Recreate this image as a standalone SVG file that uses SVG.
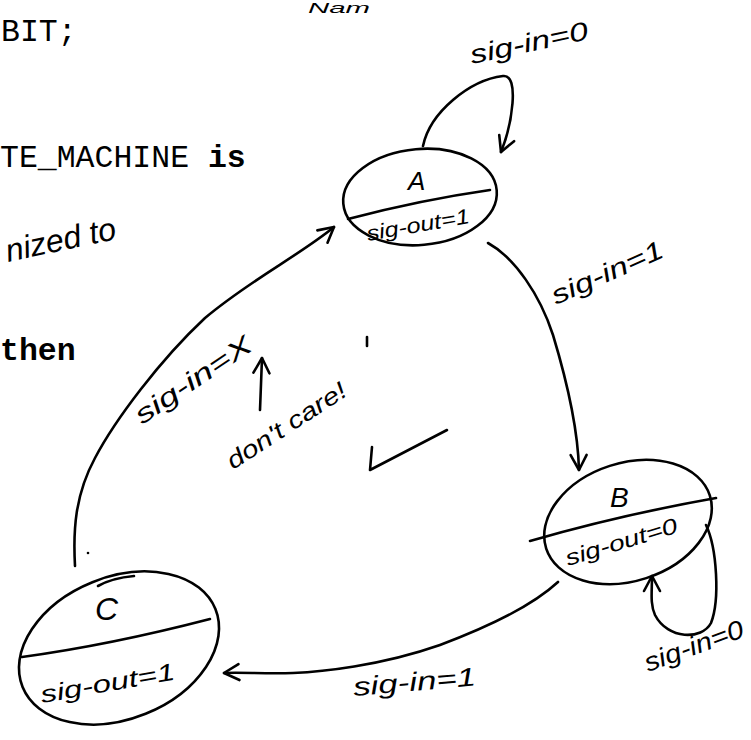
<svg xmlns="http://www.w3.org/2000/svg" width="751" height="740" viewBox="0 0 751 740">
<style>
.code{font-family:"Liberation Mono","Courier New",monospace;font-size:31.5px;fill:#000}
.b{font-weight:bold}
.hw{font-family:"Liberation Sans","DejaVu Sans",sans-serif;font-style:italic;fill:#000}
.st{fill:none;stroke:#000;stroke-width:2.6;stroke-linecap:round;stroke-linejoin:round}
.node{fill:none;stroke:#000;stroke-width:2.6}
</style>
<defs>
<marker id="arr" viewBox="-17 -10 20 20" refX="0" refY="0" markerWidth="20" markerHeight="20" markerUnits="userSpaceOnUse" orient="auto" overflow="visible">
<path d="M-15,-8 L0,0 L-15,8" fill="none" stroke="#000" stroke-width="2.6" stroke-linecap="round" stroke-linejoin="round"/>
</marker>
</defs>
<rect width="751" height="740" fill="#fff"/>

<g id="printed">
<text class="code" x="1" y="41">BIT;</text>
<text class="code" x="0" y="167">TE_MACHINE <tspan class="b">is</tspan></text>
<text class="code b" x="0" y="360">then</text>
</g>

<g id="notes">
<text class="hw" font-size="15" transform="translate(308,13)" textLength="62" lengthAdjust="spacingAndGlyphs">Nam</text>
<text class="hw" font-size="32" transform="translate(8,262) rotate(-12)" textLength="112" lengthAdjust="spacingAndGlyphs">nized to</text>
<text class="hw" font-size="26" transform="translate(142,425) rotate(-34)" textLength="135" lengthAdjust="spacingAndGlyphs">sig-in=X</text>
<path class="st" d="M260,410 L262,358" marker-end="url(#arr)"/>
<text class="hw" font-size="24" transform="translate(233,470) rotate(-33)" textLength="138" lengthAdjust="spacingAndGlyphs">don't care!</text>
<path class="st" stroke-width="3" d="M372,447 L370,470 L447,430"/>
<path class="st" stroke-width="1.2" d="M367,337 L367,346"/>
<circle cx="88" cy="553" r="1.3" fill="#000"/>
</g>

<g id="connectors">
<path class="st" d="M423,146 C430,112 470,80 503,76 C520,74 512,125 501,152" marker-end="url(#arr)"/>
<text class="hw" font-size="26" transform="translate(472,64) rotate(-12)" textLength="120" lengthAdjust="spacingAndGlyphs">sig-in=0</text>
<path class="st" d="M488,243 C515,258 540,295 553,335 C566,378 578,430 579,470" marker-end="url(#arr)"/>
<text class="hw" font-size="26" transform="translate(556,305) rotate(-24)" textLength="120" lengthAdjust="spacingAndGlyphs">sig-in=1</text>
<path class="st" d="M706,525 C717,548 720,600 711,623 C702,640 668,640 655,615 C650,604 652,592 652,576" marker-end="url(#arr)"/>
<text class="hw" font-size="26" transform="translate(648,672) rotate(-20)" textLength="104" lengthAdjust="spacingAndGlyphs">sig-in=0</text>
<path class="st" d="M558,582 C530,608 480,630 440,645 C380,666 320,672 293,673 C265,674 240,672 224,673" marker-end="url(#arr)"/>
<text class="hw" font-size="26" transform="translate(354,696) rotate(-5)" textLength="123" lengthAdjust="spacingAndGlyphs">sig-in=1</text>
<path class="st" d="M75,566 C73,530 75,495 95,458 C115,420 160,360 205,318 C250,280 300,255 334,227" marker-end="url(#arr)"/>
</g>

<g id="A">
<ellipse class="node" cx="420" cy="197" rx="77" ry="48" transform="rotate(-5 420 197)"/>
<path class="st" d="M348,219 Q420,200 490,190"/>
<text class="hw" font-size="26" x="408" y="190" font-style="normal">A</text>
<text class="hw" font-size="21" transform="translate(368,241) rotate(-10)" textLength="104" lengthAdjust="spacingAndGlyphs">sig-out=1</text>
</g>

<g id="B">
<ellipse class="node" cx="628" cy="522" rx="86" ry="59" transform="rotate(-18 628 522)"/>
<path class="st" d="M530,541 Q620,515 716,498"/>
<text class="hw" font-size="28" x="610" y="507" font-style="normal">B</text>
<text class="hw" font-size="22" transform="translate(568,566) rotate(-17)" textLength="116" lengthAdjust="spacingAndGlyphs">sig-out=0</text>
</g>

<g id="C">
<ellipse class="node" cx="119" cy="648" rx="104" ry="71" transform="rotate(-22 119 648)"/>
<path class="st" d="M22,657 Q110,645 210,619"/>
<path class="st" stroke-width="2" d="M98,586 Q112,578 134,576"/>
<text class="hw" font-size="32" x="95" y="620" font-style="normal">C</text>
<text class="hw" font-size="24" transform="translate(42,703) rotate(-10)" textLength="136" lengthAdjust="spacingAndGlyphs">sig-out=1</text>
</g>
</svg>
